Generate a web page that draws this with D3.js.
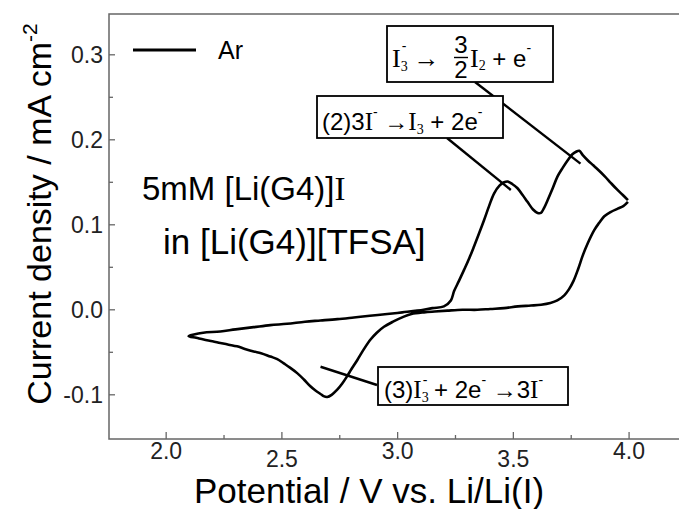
<!DOCTYPE html>
<html>
<head>
<meta charset="utf-8">
<script src="https://cdn.jsdelivr.net/npm/d3@7"></script>
<style>
  body { margin: 0; background: #fff; }
  svg { display: block; }
</style>
</head>
<body>
<svg id="chart" width="679" height="509"></svg>
<script>
// cyclic voltammogram, Ar atmosphere (V vs. Li/Li(I), mA cm^-2)
// scan order: from the 4.0 V vertex, cathodic to 2.1 V, then anodic back to 4.0 V
const potential = [
  3.995, 3.975, 3.951, 3.92, 3.893, 3.87, 3.85, 3.821, 3.80, 3.78, 3.76, 3.74, 3.72, 3.69, 3.66,
  3.62, 3.576, 3.52, 3.46, 3.40, 3.345, 3.28, 3.215, 3.16, 3.114, 3.06, 3.027, 2.98, 2.941, 2.91,
  2.883, 2.855, 2.826, 2.80, 2.782, 2.76, 2.739, 2.715, 2.696, 2.68, 2.667, 2.645, 2.623, 2.595,
  2.566, 2.535, 2.508, 2.48, 2.45, 2.41, 2.378, 2.34, 2.306, 2.27, 2.234, 2.2, 2.162, 2.13, 2.097,
  2.12, 2.16, 2.234, 2.30, 2.378, 2.45, 2.522, 2.60, 2.667, 2.74, 2.811, 2.88, 2.955, 3.02, 3.085,
  3.15, 3.20, 3.23, 3.244, 3.265, 3.287, 3.31, 3.33, 3.352, 3.374, 3.395, 3.417, 3.44, 3.46, 3.475,
  3.495, 3.518, 3.54, 3.561, 3.585, 3.605, 3.619, 3.633, 3.648, 3.67, 3.691, 3.713, 3.735, 3.755,
  3.771, 3.785, 3.80, 3.821, 3.845, 3.865, 3.895, 3.922, 3.95, 3.973, 3.995
];
const current = [
  0.127, 0.122, 0.119, 0.115, 0.110, 0.102, 0.094, 0.078, 0.064, 0.048, 0.034, 0.024, 0.017, 0.011, 0.008,
  0.006, 0.005, 0.004, 0.002, 0.001, 0.0, 0.0, -0.001, -0.002, -0.003, -0.005, -0.008, -0.014, -0.020, -0.027,
  -0.035, -0.046, -0.059, -0.070, -0.078, -0.087, -0.094, -0.100, -0.1025, -0.1015, -0.099, -0.095, -0.090, -0.082,
  -0.0745, -0.068, -0.063, -0.058, -0.055, -0.051, -0.049, -0.046, -0.043, -0.041, -0.039, -0.037, -0.035, -0.033, -0.031,
  -0.029, -0.027, -0.0255, -0.023, -0.0204, -0.018, -0.0165, -0.014, -0.0126, -0.011, -0.009, -0.007, -0.005, -0.003, -0.001,
  0.002, 0.004, 0.011, 0.022, 0.034, 0.047, 0.061, 0.0745, 0.090, 0.106, 0.122, 0.137, 0.146, 0.150, 0.151,
  0.148, 0.143, 0.135, 0.127, 0.118, 0.114, 0.114, 0.120, 0.129, 0.143, 0.157, 0.167, 0.176, 0.183,
  0.186, 0.187, 0.182, 0.176, 0.170, 0.165, 0.157, 0.149, 0.141, 0.135, 0.129
];

const xTicks = [2.0, 2.5, 3.0, 3.5, 4.0];
const xMinorTicks = [2.25, 2.75, 3.25, 3.75];
const yTicks = [-0.1, 0.0, 0.1, 0.2, 0.3];
const yMinorTicks = [-0.05, 0.05, 0.15, 0.25];

// points the leader lines of the three labels point at (V, mA cm^-2)
const leaderTargets = [
  [3.79, 0.172],   // I3- -> 3/2 I2 + e-
  [3.489, 0.141],  // (2)
  [2.667, -0.067]  // (3)
];

const svg = d3.select("#chart");
const M = { left: 109, top: 14, right: 680, bottom: 439 };

const x = d3.scaleLinear().domain([1.753, 4.22]).range([M.left, M.right]);
const y = d3.scaleLinear().domain([-0.152, 0.348]).range([M.bottom, M.top]);

const SANS = "'Liberation Sans', Arial, sans-serif";
const SERIF = "'Liberation Serif', 'Times New Roman', serif";
const fmt = d => d3.format(".1f")(d).replace("\u2212", "-");

// frame (right side falls outside the picture)
svg.append("rect")
  .attr("x", M.left).attr("y", M.top)
  .attr("width", M.right - M.left + 2).attr("height", M.bottom - M.top)
  .attr("fill", "none").attr("stroke", "#666").attr("stroke-width", 1.5);

// x ticks point inward
const xAxis = svg.append("g").attr("transform", `translate(0,${M.bottom})`);
xAxis.selectAll("line.major").data(xTicks).join("line")
  .attr("class", "major")
  .attr("x1", d => x(d)).attr("x2", d => x(d))
  .attr("y1", 0).attr("y2", -7)
  .attr("stroke", "#666").attr("stroke-width", 1.3);
xAxis.selectAll("line.minor").data(xMinorTicks).join("line")
  .attr("class", "minor")
  .attr("x1", d => x(d)).attr("x2", d => x(d))
  .attr("y1", 0).attr("y2", -4)
  .attr("stroke", "#666").attr("stroke-width", 1.3);
xAxis.selectAll("text").data(xTicks).join("text")
  .attr("x", d => x(d))
  .attr("y", (d, i) => i % 2 ? 28 : 20)   // labels sit at staggered heights in the source
  .attr("text-anchor", "middle")
  .attr("font-family", SANS).attr("font-size", 23)
  .attr("fill", "#222")
  .text(fmt);

const yAxis = svg.append("g").attr("transform", `translate(${M.left},0)`);
yAxis.selectAll("line.major").data(yTicks).join("line")
  .attr("class", "major")
  .attr("y1", d => y(d)).attr("y2", d => y(d))
  .attr("x1", 0).attr("x2", 6)
  .attr("stroke", "#666").attr("stroke-width", 1.3);
yAxis.selectAll("line.minor").data(yMinorTicks).join("line")
  .attr("class", "minor")
  .attr("y1", d => y(d)).attr("y2", d => y(d))
  .attr("x1", 0).attr("x2", 4)
  .attr("stroke", "#666").attr("stroke-width", 1.3);
yAxis.selectAll("text").data(yTicks).join("text")
  .attr("x", -6)
  .attr("y", d => y(d) + 8)
  .attr("text-anchor", "end")
  .attr("font-family", SANS).attr("font-size", 23)
  .attr("fill", "#222")
  .text(fmt);

// axis titles
svg.append("text")
  .attr("x", 369).attr("y", 503)
  .attr("text-anchor", "middle")
  .attr("font-family", SANS).attr("font-size", 35)
  .text("Potential / V vs. Li/Li(I)");

const yTitle = svg.append("text")
  .attr("transform", "translate(51,214) rotate(-90)")
  .attr("text-anchor", "middle")
  .attr("font-family", SANS).attr("font-size", 34);
yTitle.append("tspan").text("Current density / mA cm");
yTitle.append("tspan").attr("font-size", 21).attr("dy", -14).text("-2");

// the CV curve
const pts = potential.map((v, i) => [v, current[i]]);
svg.append("path")
  .datum(pts)
  .attr("d", d3.line().x(d => x(d[0])).y(d => y(d[1])).curve(d3.curveCatmullRom))
  .attr("fill", "none")
  .attr("stroke", "#000")
  .attr("stroke-width", 2.6)
  .attr("stroke-linejoin", "round");

// legend
svg.append("line")
  .attr("x1", 133).attr("x2", 196).attr("y1", 50).attr("y2", 50)
  .attr("stroke", "#000").attr("stroke-width", 3);
svg.append("text")
  .attr("x", 218).attr("y", 59)
  .attr("font-family", SANS).attr("font-size", 25)
  .text("Ar");

// sample description
svg.append("text").attr("x", 142).attr("y", 200)
  .attr("font-family", SANS).attr("font-size", 33)
  .call(t => {
    t.append("tspan").text("5mM [Li(G4)]");
    t.append("tspan").attr("font-family", SERIF).text("I");
  });
svg.append("text").attr("x", 163).attr("y", 254)
  .attr("font-family", SANS).attr("font-size", 35)
  .text("in [Li(G4)][TFSA]");

// rich text helper: parts = [text, {serif, size, dx, dy}]
function rich(x0, y0, parts) {
  const t = svg.append("text").attr("x", x0).attr("y", y0).attr("font-family", SANS);
  parts.forEach(([s, o]) => {
    t.append("tspan")
      .attr("font-family", o.serif ? SERIF : SANS)
      .attr("font-size", o.size)
      .attr("dx", o.dx || 0)
      .attr("dy", o.dy || 0)
      .text(s);
  });
  return t;
}

function box(x0, y0, w, h) {
  svg.append("rect")
    .attr("x", x0).attr("y", y0).attr("width", w).attr("height", h)
    .attr("fill", "#fff").attr("stroke", "#000").attr("stroke-width", 1.8);
}

function leader(x0, y0, target) {
  svg.append("line")
    .attr("x1", x0).attr("y1", y0)
    .attr("x2", x(target[0])).attr("y2", y(target[1]))
    .attr("stroke", "#000").attr("stroke-width", 2.4);
}

leader(475, 82, leaderTargets[0]);
leader(447, 138, leaderTargets[1]);
leader(377, 385, leaderTargets[2]);

// box 1: I3- -> 3/2 I2 + e-
box(387, 26, 166, 56);
rich(392, 67, [
  ["I", { serif: true, size: 26 }],
  ["3", { serif: true, size: 14, dy: 4 }],
  ["-", { size: 14, dx: -6, dy: -20 }],
  [" \u2192", { size: 26, dy: 16 }]
]);
svg.append("text").attr("x", 461).attr("y", 53).attr("text-anchor", "middle")
  .attr("font-family", SANS).attr("font-size", 24).text("3");
svg.append("line").attr("x1", 454).attr("x2", 468).attr("y1", 57.5).attr("y2", 57.5)
  .attr("stroke", "#000").attr("stroke-width", 1.4);
svg.append("text").attr("x", 461).attr("y", 78).attr("text-anchor", "middle")
  .attr("font-family", SANS).attr("font-size", 24).text("2");
rich(470, 67, [
  ["I", { serif: true, size: 26 }],
  ["2", { serif: true, size: 14, dy: 3 }],
  [" + e", { size: 24, dy: -3 }],
  ["-", { size: 14, dy: -14 }]
]);

// box 2: (2) 3I- -> I3- + 2e-
box(317, 96, 186, 42);
rich(322, 130, [
  ["(2)3", { size: 24 }],
  ["I", { serif: true, size: 25 }],
  ["-", { size: 14, dy: -13 }],
  [" \u2192", { size: 24, dy: 13 }],
  ["I", { serif: true, size: 25 }],
  ["3", { serif: true, size: 14, dy: 4 }],
  [" + 2e", { size: 24, dy: -4 }],
  ["-", { size: 14, dy: -13 }]
]);

// box 3: (3) I3- + 2e- -> 3I-
box(378, 367, 190, 38);
rich(384, 398, [
  ["(3)", { size: 24 }],
  ["I", { serif: true, size: 25 }],
  ["3", { serif: true, size: 14, dy: 4 }],
  ["-", { size: 14, dx: -6, dy: -17 }],
  [" + 2e", { size: 24, dy: 13 }],
  ["-", { size: 14, dy: -13 }],
  [" \u21923", { size: 24, dy: 13 }],
  ["I", { serif: true, size: 25 }],
  ["-", { size: 14, dy: -13 }]
]);
</script>
</body>
</html>
